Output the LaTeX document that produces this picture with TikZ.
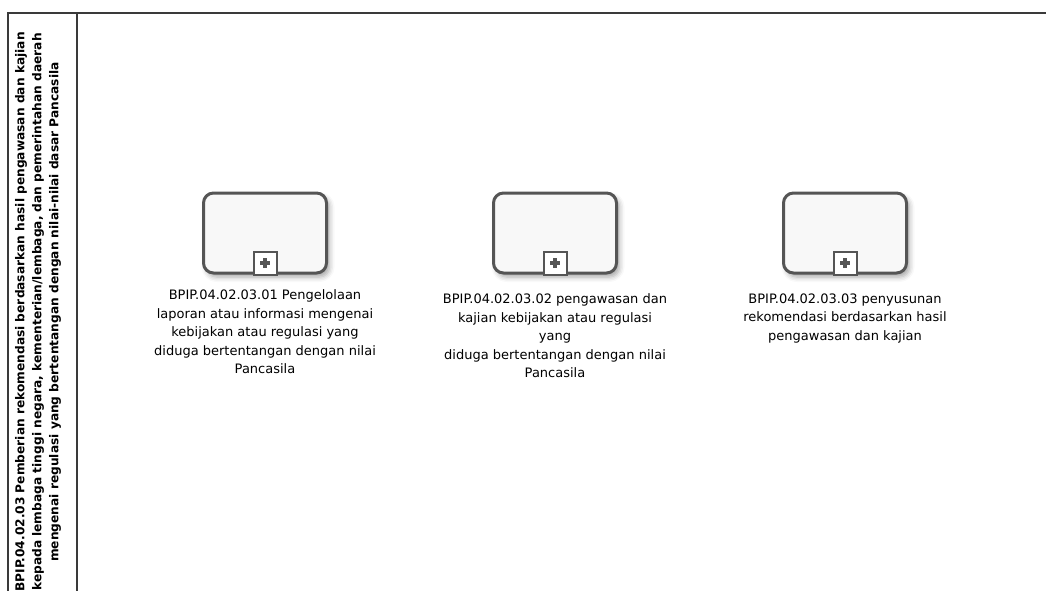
\documentclass[tikz,border=0pt]{standalone}
\usepackage{fontspec}
\setmainfont{DejaVu Sans}
\usepackage{xcolor}
\usetikzlibrary{positioning,shadows.blur}
\definecolor{taskedge}{HTML}{555555}
\definecolor{taskfill}{HTML}{F8F8F8}
\definecolor{pooledge}{HTML}{3A3A3A}

\begin{document}
\begin{tikzpicture}[
  x=1pt,y=-1pt,
  pool/.style={draw=pooledge,line width=2pt},
  task/.style={draw=taskedge,line width=3pt,fill=taskfill,rounded corners=10pt,
    minimum width=123pt,minimum height=80pt,
    blur shadow={shadow xshift=3pt,shadow yshift=-4pt,shadow blur radius=5pt,shadow opacity=35}},
  sub/.style={draw=taskedge,line width=2pt,fill=white,minimum size=23pt,inner sep=0pt},
  lbl/.style={align=center,inner sep=2pt,font=\fontsize{13}{18.5}\selectfont},
  head/.style={rotate=90,align=center,inner sep=0pt,font=\bfseries\fontsize{12.2}{17}\selectfont}
]
\useasboundingbox (0,0) rectangle (1046,590);
\clip (0,0) rectangle (1046,590);

% pool with its lane header
\draw[pool] (8,13) rectangle (1060,611);
\draw[pooledge,line width=1.5pt] (77,13) -- (77,611);
\node[head] (hd) at (38,312) {BPIP.04.02.03 Pemberian rekomendasi berdasarkan hasil pengawasan dan kajian\\
  kepada lembaga tinggi negara, kementerian/lembaga, dan pemerintahan daerah\\
  mengenai regulasi yang bertentangan dengan nilai-nilai dasar Pancasila};

% collapsed sub-processes
\node[task] (t1) at (265,233) {};
\node[task,right=164pt of t1] (t2) {};
\node[task,right=164pt of t2] (t3) {};

\foreach \t in {t1,t2,t3}{
  \node[sub,anchor=south] (m\t) at ([yshift=-1pt]\t.south) {};
  \draw[taskedge,line width=3.5pt] ([xshift=-5pt]m\t.center) -- ([xshift=5pt]m\t.center);
  \draw[taskedge,line width=3.5pt] ([yshift=-5pt]m\t.center) -- ([yshift=5pt]m\t.center);
}

\node[lbl,below=13pt of t1] (l1) {BPIP.04.02.03.01 Pengelolaan\\laporan atau informasi mengenai\\
  kebijakan atau regulasi yang\\diduga bertentangan dengan nilai\\Pancasila};
\node[lbl,below=17pt of t2] (l2) {BPIP.04.02.03.02 pengawasan dan\\kajian kebijakan atau regulasi\\
  yang\\diduga bertentangan dengan nilai\\Pancasila};
\node[lbl,below=17pt of t3] (l3) {BPIP.04.02.03.03 penyusunan\\rekomendasi berdasarkan hasil\\
  pengawasan dan kajian};
\end{tikzpicture}
\end{document}
